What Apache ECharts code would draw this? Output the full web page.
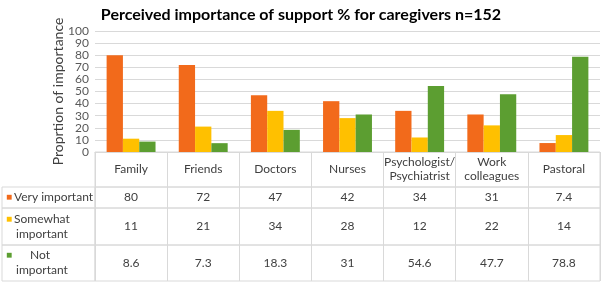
<!DOCTYPE html>
<html lang="en" style="height: 100%">
<head>
  <meta charset="utf-8">
</head>
<body style="height: 100%; margin: 0">
  <div id="container" style="width: 602px; height: 283px"></div>

  <script type="text/javascript" src="https://cdn.jsdelivr.net/npm/echarts@6/dist/echarts.min.js"></script>

  <script type="text/javascript">
    var categories = ['Family', 'Friends', 'Doctors', 'Nurses', 'Psychologist/\nPsychiatrist', 'Work\ncolleagues', 'Pastoral'];
    var veryImportant = [80, 72, 47, 42, 34, 31, 7.4];
    var somewhatImportant = [11, 21, 34, 28, 12, 22, 14];
    var notImportant = [8.6, 7.3, 18.3, 31, 54.6, 47.7, 78.8];
    var seriesNames = ['Very important', 'Somewhat important', 'Not important'];
    var colors = ['#f26a1b', '#ffc000', '#5c9e31'];

    var dom = document.getElementById('container');
    var myChart = echarts.init(dom, null, { renderer: 'canvas' });

    var font = 'Lato';
    var txt = '#404040';
    var lineCol = '#d9d9d9';
    var rows = [veryImportant, somewhatImportant, notImportant];
    // table row positions (top, height)
    var rowTop = [187, 208, 245];
    var rowH = [21, 37, 36];

    var grids = [
      { left: 95, right: 2, top: 31, height: 121 },
      { left: 95, right: 2, top: 152, height: 35, show: true, borderColor: lineCol, borderWidth: 1 }
    ];
    var xAxes = [
      {
        gridIndex: 0, type: 'category', data: categories,
        axisLabel: { show: false }, axisTick: { show: false },
        axisLine: { lineStyle: { color: lineCol } }
      },
      {
        gridIndex: 1, type: 'category', data: categories,
        axisLine: { show: false }, axisTick: { show: false },
        splitLine: { show: true, interval: 0, lineStyle: { color: lineCol } },
        axisLabel: {
          interval: 0, inside: true, margin: 17.5, verticalAlign: 'middle',
          color: txt, fontSize: 12, lineHeight: 14, fontFamily: font
        }
      }
    ];
    var yAxes = [
      {
        gridIndex: 0, type: 'value', min: 0, max: 100, interval: 10,
        name: 'Proprtion of importance', nameLocation: 'middle', nameGap: 30,
        nameMoveOverlap: false,
        nameTextStyle: { color: txt, fontSize: 14, fontFamily: font },
        axisLine: { show: false }, axisTick: { show: false },
        splitLine: { interval: 0, lineStyle: { color: lineCol } },
        axisLabel: {
          interval: 0, color: '#595959', fontSize: 12, margin: 6, fontFamily: font,
          showMinLabel: true, showMaxLabel: true, hideOverlap: false
        }
      },
      { gridIndex: 1, type: 'value', show: false }
    ];

    var labelFmt = [
      '{m0|■}{t|Very important}',
      '{m1|■}{t|Somewhat}\n{i|important}',
      '{m2|■}{n|Not}\n{i|important}'
    ];

    rows.forEach(function (vals, r) {
      // value cells
      grids.push({ left: 95, right: 2, top: rowTop[r], height: rowH[r], show: true, borderColor: lineCol, borderWidth: 1 });
      xAxes.push({
        gridIndex: grids.length - 1, type: 'category', data: categories,
        axisLine: { show: false }, axisTick: { show: false },
        splitLine: { show: true, interval: 0, lineStyle: { color: lineCol } },
        axisLabel: {
          interval: 0, inside: true, margin: rowH[r] / 2, verticalAlign: 'middle',
          color: txt, fontSize: 12, fontFamily: font,
          formatter: function (v, i) { return String(vals[i]); }
        }
      });
      yAxes.push({ gridIndex: grids.length - 1, type: 'value', show: false });
    });

    rows.forEach(function (vals, r) {
      // row header cells
      grids.push({ left: 2, width: 93, top: rowTop[r], height: rowH[r], show: true, borderColor: lineCol, borderWidth: 1 });
      xAxes.push({ gridIndex: grids.length - 1, type: 'value', show: false });
      yAxes.push({
        gridIndex: grids.length - 1, type: 'category', data: [seriesNames[r]],
        axisLine: { show: false }, axisTick: { show: false },
        axisLabel: {
          inside: true, margin: 4, align: 'left',
          formatter: function () { return labelFmt[r]; },
          rich: {
            m0: { color: colors[0], fontSize: 10, padding: [0, 2, 0, 0] },
            m1: { color: colors[1], fontSize: 10, padding: [0, 2, 0, 0] },
            m2: { color: colors[2], fontSize: 10, padding: [0, 2, 0, 0] },
            t: { color: txt, fontSize: 12, fontFamily: font, lineHeight: 15 },
            n: { color: txt, fontSize: 12, fontFamily: font, lineHeight: 15, padding: [0, 0, 0, 16] },
            i: { color: txt, fontSize: 12, fontFamily: font, lineHeight: 15, padding: [0, 0, 0, 10] }
          }
        }
      });
    });

    var option = {
      animation: false,
      title: {
        text: 'Perceived importance of support % for caregivers n=152',
        left: 'center', top: 2,
        textStyle: { fontSize: 16, fontWeight: 'bold', color: '#000', fontFamily: font }
      },
      grid: grids,
      xAxis: xAxes,
      yAxis: yAxes,
      series: [veryImportant, somewhatImportant, notImportant].map(function (d, k) {
        return {
          name: seriesNames[k], type: 'bar', xAxisIndex: 0, yAxisIndex: 0,
          barWidth: '22.6%', barGap: 0, data: d, itemStyle: { color: colors[k] }
        };
      })
    };

    myChart.setOption(option);
    window.addEventListener('resize', myChart.resize);
  </script>
</body>
</html>
